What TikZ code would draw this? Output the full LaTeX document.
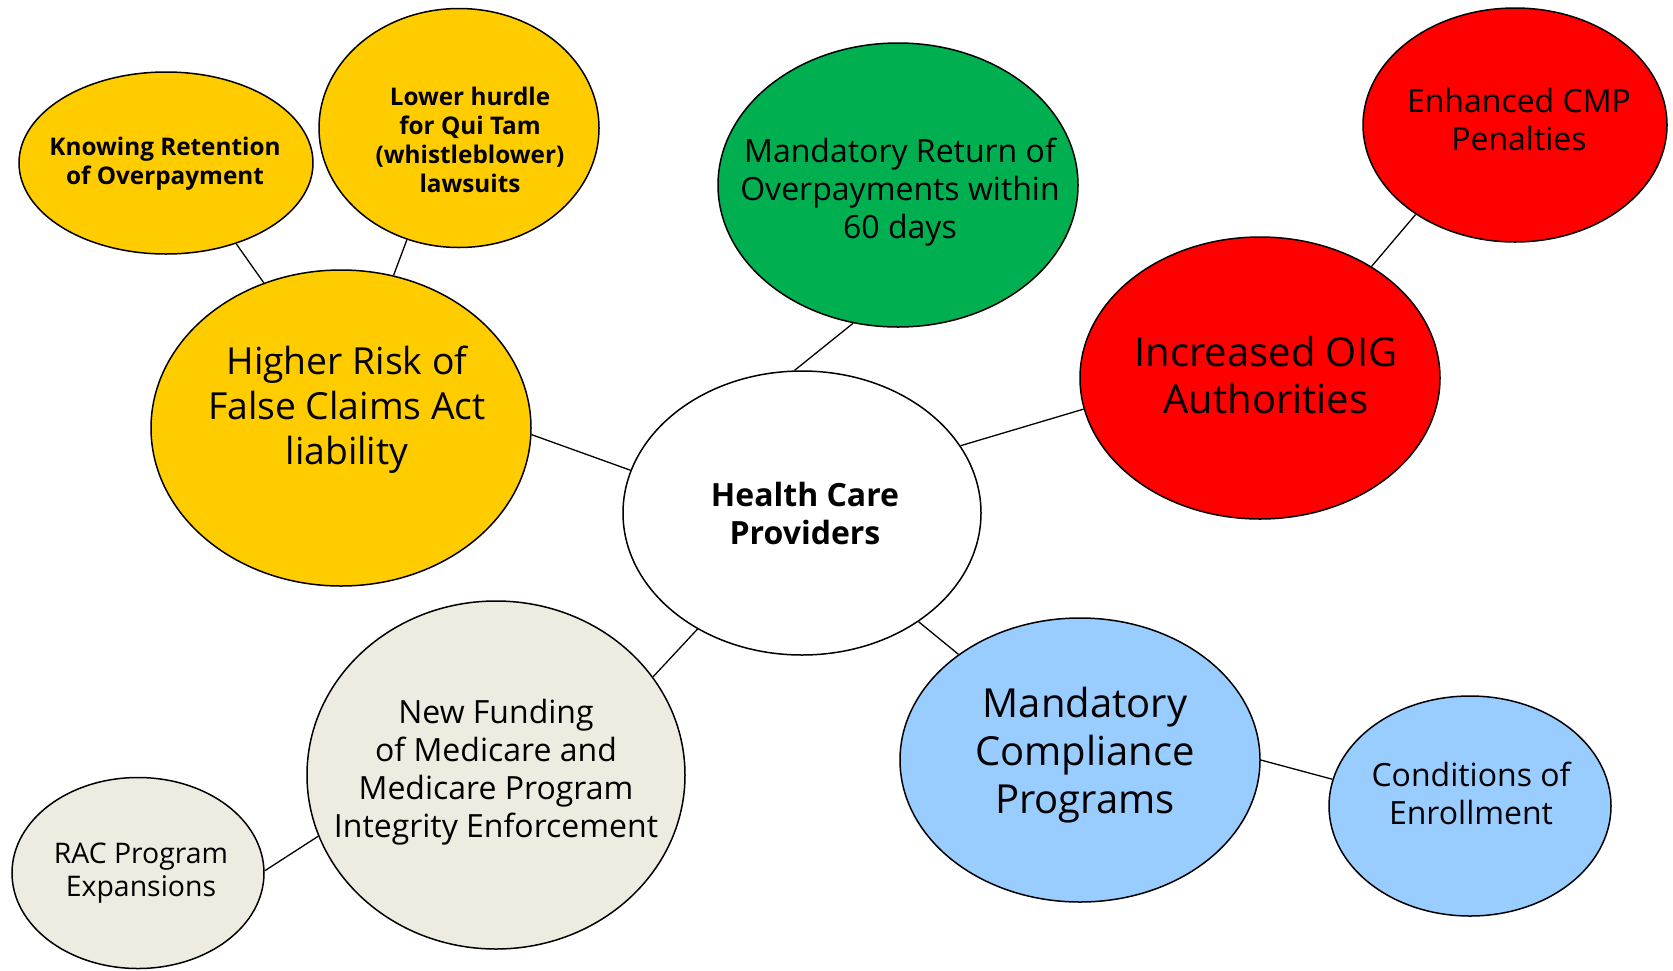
\documentclass[tikz,border=0pt]{standalone}
\usepackage{fontspec}
\setmainfont{Open Sans}
\usetikzlibrary{shapes.geometric}
\definecolor{gold}{HTML}{FFCC00}
\definecolor{leaf}{HTML}{00B050}
\definecolor{alarm}{HTML}{FF0000}
\definecolor{sky}{HTML}{99CCFF}
\definecolor{tan}{HTML}{EEECE1}
\tikzset{
  bubble/.style={ellipse, draw=black, line width=1.5pt, inner sep=0pt},
  link/.style={draw=black, line width=1.3pt},
  huge/.style={align=center, font=\fontsize{40}{47}\selectfont},
  big/.style={align=center, font=\fontsize{37.3}{45}\selectfont},
  mid/.style={align=center, font=\fontsize{32}{38}\selectfont},
  small/.style={align=center, font=\fontsize{28.4}{33}\selectfont},
  tiny/.style={align=center, font=\bfseries\fontsize{24.3}{29}\selectfont},
}
\begin{document}
\begin{tikzpicture}[x=1pt,y=-1pt]
  \useasboundingbox (0,0) rectangle (1673,970);
  % the bubbles
  \node[bubble, fill=gold, minimum width=294pt, minimum height=182pt] (knowing) at (166,163) {};
  \node[bubble, fill=gold, minimum width=280pt, minimum height=239pt] (hurdle) at (459,128) {};
  \node[bubble, fill=gold, minimum width=380pt, minimum height=316pt] (fca) at (341,428) {};
  \node[bubble, fill=leaf, minimum width=360pt, minimum height=284pt] (return) at (898,185) {};
  \node[bubble, fill=alarm, minimum width=304pt, minimum height=234pt] (cmp) at (1515,125) {};
  \node[bubble, fill=alarm, minimum width=360pt, minimum height=282pt] (oig) at (1260,378) {};
  \node[bubble, fill=white, minimum width=358pt, minimum height=284pt] (hcp) at (802,513) {};
  \node[bubble, fill=tan, minimum width=378pt, minimum height=348pt] (funding) at (496,775) {};
  \node[bubble, fill=tan, minimum width=252pt, minimum height=191pt] (rac) at (138,873) {};
  \node[bubble, fill=sky, minimum width=360pt, minimum height=284pt] (compliance) at (1080,760) {};
  \node[bubble, fill=sky, minimum width=282pt, minimum height=220pt] (enroll) at (1470,806) {};
  % their texts
  \node[tiny] (knowing-t) at (165,164) {Knowing Retention\\of Overpayment};
  \node[tiny] (hurdle-t) at (470,140) {Lower hurdle\\for Qui Tam\\(whistleblower)\\lawsuits};
  \node[big] (fca-t) at (347,410) {Higher Risk of\\False Claims Act\\liability};
  \node[mid] (return-t) at (900,192) {Mandatory Return of\\Overpayments within\\60 days};
  \node[mid] (cmp-t) at (1519,119) {Enhanced CMP\\Penalties};
  \node[huge] (oig-t) at (1266,375) {Increased OIG\\Authorities};
  \node[mid, font=\bfseries\fontsize{32}{38}\selectfont] (hcp-t) at (805,513) {Health Care\\Providers};
  \node[mid] (funding-t) at (496,772) {New Funding\\of Medicare and\\Medicare Program\\Integrity Enforcement};
  \node[small] (rac-t) at (141,873) {RAC Program\\Expansions};
  \node[huge, font=\fontsize{40}{48}\selectfont] (compliance-t) at (1085,755) {Mandatory\\Compliance\\Programs};
  \node[mid] (enroll-t) at (1471,793) {Conditions of\\Enrollment};
  % links
  \draw[link] (knowing.-49) -- (fca.118.5);
  \draw[link] (hurdle.245) -- (fca.71);
  \draw[link] (fca.-2) -- (hcp.166);
  \draw[link] (return.252) -- (hcp.93);
  \draw[link] (oig.190) -- (hcp.23);
  \draw[link] (cmp.222) -- (oig.45.5);
  \draw[link] (hcp.228) -- (funding.32);
  \draw[link] (hcp.317.5) -- (compliance.139);
  \draw[link] (compliance.0) -- (enroll.169);
  \draw[link] (rac.1.5) -- (funding.199);
\end{tikzpicture}
\end{document}
